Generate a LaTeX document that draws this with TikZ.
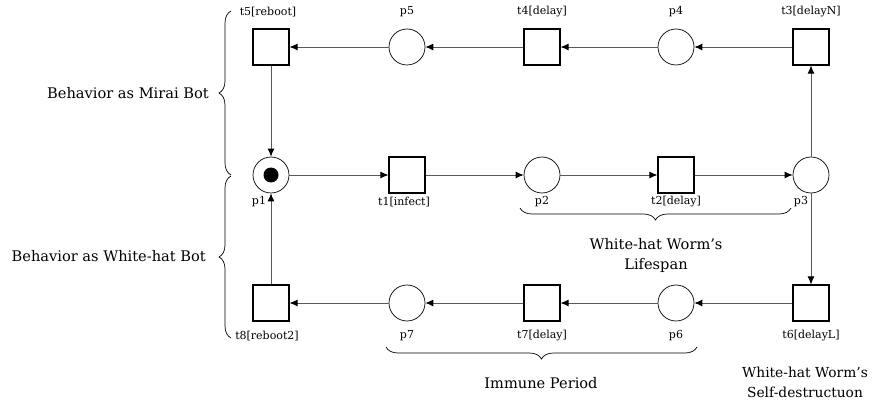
\documentclass[tikz,border=0pt]{standalone}
\usepackage{fontspec}
\setmainfont{DejaVu Serif}
\usetikzlibrary{arrows.meta,decorations.pathreplacing}
\begin{document}
\begin{tikzpicture}[x=1pt,y=-1pt,
  place/.style={draw=black,line width=0.7pt,circle,minimum size=36pt,inner sep=0pt},
  trans/.style={draw=black,line width=1.1pt,rectangle,minimum size=36pt,inner sep=0pt},
  arc/.style={draw=black!65,line width=0.9pt,-{Latex[length=8pt,width=7pt,color=black]}},
  lbl/.style={font=\fontsize{11}{13}\selectfont,inner sep=0pt},
  big/.style={font=\fontsize{14.6}{20}\selectfont,inner sep=0pt,align=center},
  bracepath/.style={draw=black,line width=0.7pt,decorate,decoration={brace,amplitude=12pt}}]
\useasboundingbox (0,0) rectangle (874,403);

% top row
\node[trans] (t5) at (271,47) {};
\node[place] (p5) at (407,47) {};
\node[trans] (t4) at (542,47) {};
\node[place] (p4) at (676,47) {};
\node[trans] (t3) at (811,47) {};
% middle row
\node[place] (p1) at (271,175) {};
\node[trans] (t1) at (407,175) {};
\node[place] (p2) at (542,175) {};
\node[trans] (t2) at (676,175) {};
\node[place] (p3) at (811,175) {};
% bottom row
\node[trans] (t8) at (271,303) {};
\node[place] (p7) at (407,303) {};
\node[trans] (t7) at (542,303) {};
\node[place] (p6) at (676,303) {};
\node[trans] (t6) at (811,303) {};

% token in p1
\fill[black] (p1.center) circle (7.5pt);

% labels
\node[lbl] (lt5) at (268,12) {t5[reboot]};
\node[lbl] (lp5) at (407,12) {p5};
\node[lbl] (lt4) at (542,12) {t4[delay]};
\node[lbl] (lp4) at (676,12) {p4};
\node[lbl] (lt3) at (811,12) {t3[delayN]};
\node[lbl] (lp1) at (259,202) {p1};
\node[lbl] (lt1) at (404,202) {t1[infect]};
\node[lbl] (lp2) at (542,202) {p2};
\node[lbl] (lt2) at (676,202) {t2[delay]};
\node[lbl] (lp3) at (801,202) {p3};
\node[lbl] (lt8) at (267,336) {t8[reboot2]};
\node[lbl] (lp7) at (407,336) {p7};
\node[lbl] (lt7) at (542,336) {t7[delay]};
\node[lbl] (lp6) at (676,336) {p6};
\node[lbl] (lt6) at (811,336) {t6[delayL]};

% arcs
\draw[arc] (t3) -- (p4);
\draw[arc] (p4) -- (t4);
\draw[arc] (t4) -- (p5);
\draw[arc] (p5) -- (t5);
\draw[arc] (t5) -- (p1);
\draw[arc] (p1) -- (t1);
\draw[arc] (t1) -- (p2);
\draw[arc] (p2) -- (t2);
\draw[arc] (t2) -- (p3);
\draw[arc] (p3) -- (t3);
\draw[arc] (p3) -- (t6);
\draw[arc] (t6) -- (p6);
\draw[arc] (p6) -- (t7);
\draw[arc] (t7) -- (p7);
\draw[arc] (p7) -- (t8);
\draw[arc] (t8) -- (p1);

% braces
\coordinate (bA1) at (231,175);
\coordinate (bA2) at (231,11);
\coordinate (bB1) at (231,338);
\coordinate (bB2) at (231,176);
\coordinate (bC1) at (791,208);
\coordinate (bC2) at (520,208);
\coordinate (bD1) at (697,347);
\coordinate (bD2) at (386,347);
\draw[bracepath] (bA1) -- (bA2);
\draw[bracepath] (bB1) -- (bB2);
\draw[bracepath] (bC1) -- (bC2);
\draw[bracepath] (bD1) -- (bD2);

\node[big,anchor=east] (mirai) at (209,93) {Behavior as Mirai Bot};
\node[big,anchor=east] (whb) at (206,256) {Behavior as White-hat Bot};
\node[big] (life) at (656,255) {White-hat Worm's\\Lifespan};
\node[big] (immune) at (541,383) {Immune Period};
\node[big,font=\fontsize{13.8}{20}\selectfont] (selfd) at (805,382) {White-hat Worm's\\Self-destructuon};
\end{tikzpicture}
\end{document}
